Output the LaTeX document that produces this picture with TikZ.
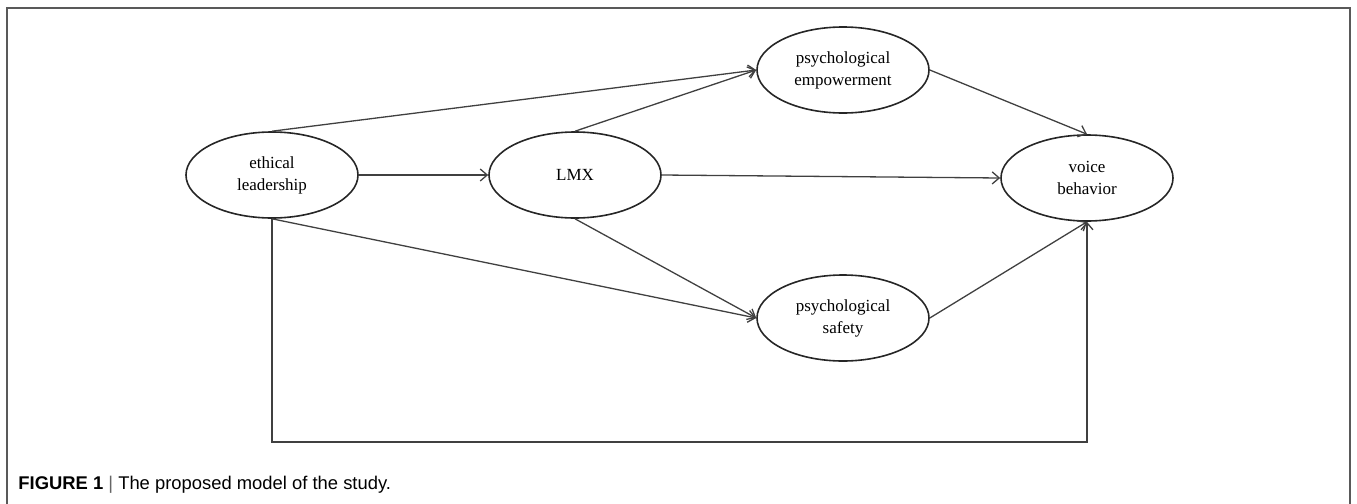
\documentclass[tikz,border=0pt]{standalone}
\usepackage{fontspec}
\setmainfont{Liberation Serif}
\newfontfamily\capfont{Liberation Sans}
\usetikzlibrary{shapes.geometric,arrows.meta}
\tikzset{
  construct/.style = {shape=ellipse, draw=black!85, line width=0.8pt,
                      align=center, inner sep=0pt,
                      minimum width=86pt, minimum height=43pt,
                      font=\fontsize{8.5}{11}\selectfont},
  link/.style      = {draw=black!75, line width=0.65pt,
                      -{Straight Barb[length=3.5pt,width=6pt]}},
  frameline/.style = {draw=black!65, line width=0.7pt}
}

\begin{document}
\begin{tikzpicture}
  [
    x = 0.5pt,
    y = -0.5pt
  ]
 \useasboundingbox (0,0) rectangle (1357,504);
 \draw [frameline] (7,504) -- (7,8) -- (1350,8) -- (1350,504);
 % constructs
 \node [construct] (el)  at (272,175)  {ethical\\leadership};
 \node [construct] (lmx) at (575,175)  {LMX};
 \node [construct] (pe)  at (843,70)   {psychological\\empowerment};
 \node [construct] (vb)  at (1087,178) {voice\\behavior};
 \node [construct] (ps)  at (843,318)  {psychological\\safety};
 \coordinate (loop) at (0,442);
 % paths
 \draw [link] (el.north)  -- (pe.west);
 \draw [link] (lmx.north) -- (pe.west);
 \draw [link] (el.east)   -- (lmx.west);
 \draw [link] (lmx.east)  -- (vb.west);
 \draw [link] (pe.east)   -- (vb.north);
 \draw [link] (el.south)  -- (ps.west);
 \draw [link] (lmx.south) -- (ps.west);
 \draw [link] (ps.east)   -- (vb.south);
 \draw [link] (el.south)  -- (el.south |- loop) -| (vb.south);
 % caption
 \node [anchor=base west, inner sep=0pt,
        font=\capfont\fontsize{9.2}{11}\selectfont] (cap) at (18,489)
   {\textbf{FIGURE 1} {\color{black!60}|} The proposed model of the study.};
\end{tikzpicture}
\end{document}
